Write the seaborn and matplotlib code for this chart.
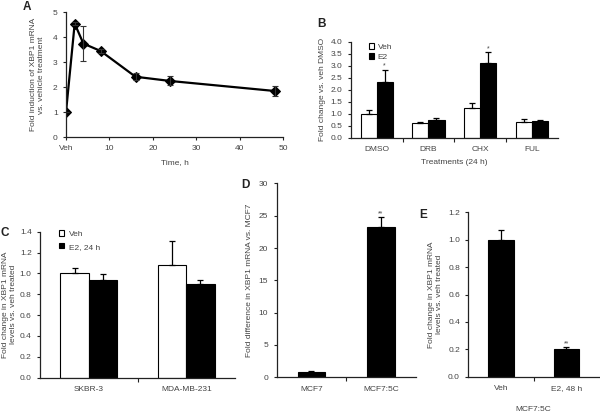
import numpy as np
import pandas as pd
import matplotlib
matplotlib.use("Agg")
import matplotlib.pyplot as plt
import seaborn as sns

# --- Data ---
# A: time course
tempo_h = [0, 2, 4, 8, 16, 24, 48]
fold_a = [1.0, 4.55, 3.75, 3.45, 2.42, 2.25, 1.85]
err_a = [0.0, 0.05, 0.70, 0.07, 0.15, 0.18, 0.20]

# B: treatments
trat_b = ["DMSO", "DRB", "CHX", "FUL"]
veh_b = [1.0, 0.62, 1.22, 0.67]
veh_b_err = [0.15, 0.05, 0.22, 0.12]
e2_b = [2.33, 0.75, 3.12, 0.70]
e2_b_err = [0.50, 0.05, 0.45, 0.03]
star_b = ["*", "", "*", ""]

# C: cell lines
linhas_c = ["SKBR-3", "MDA-MB-231"]
veh_c = [1.0, 1.08]
veh_c_err = [0.05, 0.23]
e2_c = [0.94, 0.90]
e2_c_err = [0.05, 0.04]

# D
linhas_d = ["MCF7", "MCF7:5C"]
fold_d = [0.8, 23.2]
err_d = [0.12, 1.6]
star_d = ["", "**"]

# E
trat_e = ["Veh", "E2, 48 h"]
fold_e = [1.0, 0.205]
err_e = [0.07, 0.012]
star_e = ["", "**"]

TXT = "#444444"
FS = 6

sns.set_theme(style="ticks")
plt.rcParams["font.family"] = ["Liberation Sans", "DejaVu Sans"]
plt.rcParams.update({
    "axes.edgecolor": "#222222",
    "axes.linewidth": 0.9,
    "xtick.color": "#222222",
    "ytick.color": "#222222",
    "xtick.labelcolor": TXT,
    "ytick.labelcolor": TXT,
    "xtick.labelsize": FS,
    "ytick.labelsize": FS,
    "xtick.major.size": 2.5,
    "ytick.major.size": 2.5,
    "xtick.major.width": 0.8,
    "ytick.major.width": 0.8,
    "xtick.minor.width": 0.8,
    "axes.labelcolor": TXT,
    "axes.labelsize": FS,
})

fig = plt.figure(figsize=(6.0, 4.13), dpi=100)

ax_a = fig.add_axes([0.110, 0.668, 0.362, 0.302])
ax_b = fig.add_axes([0.5845, 0.6666, 0.3455, 0.2325])
ax_c = fig.add_axes([0.0667, 0.0855, 0.325, 0.3535])
ax_d = fig.add_axes([0.461, 0.0864, 0.232, 0.4695])
ax_e = fig.add_axes([0.7805, 0.0879, 0.218, 0.398])

for ax in [ax_a, ax_b, ax_c, ax_d, ax_e]:
    sns.despine(ax=ax)


def erros_barras(ax, container, errs, marcas=None):
    # barras de erro só para cima, a partir do topo de cada barra
    for i, (bar, e) in enumerate(zip(container, errs)):
        xc = bar.get_x() + bar.get_width() / 2
        h = bar.get_height()
        ax.errorbar([xc], [h], yerr=[[0], [e]], fmt="none", ecolor="black",
                    elinewidth=0.9, capsize=2.0, capthick=0.9)
        if marcas and marcas[i]:
            ax.text(xc, h + e, marcas[i], ha="center", va="bottom",
                    fontsize=5, color=TXT)


def ticks_categoria(ax, n):
    ax.tick_params(axis="x", which="major", length=0, pad=6)
    ax.set_xticks(np.arange(n - 1) + 0.5, minor=True)
    ax.tick_params(axis="x", which="minor", length=3, direction="out")
    ax.set_xlim(-0.5, n - 0.5)


# --- A ---
df_a = pd.DataFrame({"t": tempo_h, "fold": fold_a})
sns.lineplot(data=df_a, x="t", y="fold", ax=ax_a, color="black", lw=1.6,
             marker="D", markersize=5, markeredgecolor="black")
ax_a.errorbar(tempo_h, fold_a, yerr=err_a, fmt="none", ecolor="#333333",
              elinewidth=0.8, capsize=2.0, capthick=0.8)
ax_a.set_xlim(0, 50)
ax_a.set_ylim(0, 5)
ax_a.set_xticks([0, 10, 20, 30, 40, 50])
ax_a.set_xticklabels(["Veh", "10", "20", "30", "40", "50"])
ax_a.set_yticks([0, 1, 2, 3, 4, 5])
ax_a.set_xlabel("Time, h", labelpad=5)
ax_a.set_ylabel("Fold induction of XBP1 mRNA\nvs. vehicle treatment", labelpad=6)

# --- B ---
df_b = pd.DataFrame({
    "trat": trat_b * 2,
    "val": veh_b + e2_b,
    "grupo": ["Veh"] * 4 + ["E2"] * 4,
})
sns.barplot(data=df_b, x="trat", y="val", hue="grupo", ax=ax_b,
            palette={"Veh": "white", "E2": "black"}, edgecolor="black",
            linewidth=0.8, width=0.62, errorbar=None, saturation=1)
erros_barras(ax_b, ax_b.containers[0], veh_b_err)
erros_barras(ax_b, ax_b.containers[1], e2_b_err, star_b)
ticks_categoria(ax_b, 4)
ax_b.set_ylim(0, 4)
ax_b.set_yticks(np.arange(0, 4.01, 0.5))
ax_b.set_yticklabels([f"{v:.1f}" for v in np.arange(0, 4.01, 0.5)])
ax_b.set_xlabel("Treatments (24 h)", labelpad=4)
ax_b.set_ylabel("Fold change vs. veh DMSO", labelpad=3)
ax_b.legend(loc="upper left", bbox_to_anchor=(0.05, 1.06), frameon=False,
            fontsize=FS, handlelength=0.6, handleheight=0.6, labelspacing=0.3,
            handletextpad=0.5, labelcolor=TXT)

# --- C ---
df_c = pd.DataFrame({
    "linha": linhas_c * 2,
    "val": veh_c + e2_c,
    "grupo": ["Veh"] * 2 + ["E2, 24 h"] * 2,
})
sns.barplot(data=df_c, x="linha", y="val", hue="grupo", ax=ax_c,
            palette={"Veh": "white", "E2, 24 h": "black"}, edgecolor="black",
            linewidth=0.8, width=0.58, errorbar=None, saturation=1)
erros_barras(ax_c, ax_c.containers[0], veh_c_err)
erros_barras(ax_c, ax_c.containers[1], e2_c_err)
ticks_categoria(ax_c, 2)
ax_c.set_ylim(0, 1.4)
ax_c.set_yticks(np.arange(0, 1.41, 0.2))
ax_c.set_yticklabels([f"{v:.1f}" for v in np.arange(0, 1.41, 0.2)])
ax_c.set_xlabel("")
ax_c.set_ylabel("Fold change in XBP1 mRNA\nlevels vs. veh treated", labelpad=2)
ax_c.legend(loc="upper left", bbox_to_anchor=(0.06, 1.06), frameon=False,
            fontsize=FS, handlelength=0.6, handleheight=0.6, labelspacing=0.6,
            handletextpad=0.6, labelcolor=TXT)

# --- D ---
df_d = pd.DataFrame({"linha": linhas_d, "val": fold_d})
sns.barplot(data=df_d, x="linha", y="val", ax=ax_d, color="black",
            edgecolor="black", linewidth=0.8, width=0.39, errorbar=None,
            saturation=1)
erros_barras(ax_d, ax_d.containers[0], err_d, star_d)
ticks_categoria(ax_d, 2)
ax_d.set_ylim(0, 30)
ax_d.set_yticks([0, 5, 10, 15, 20, 25, 30])
ax_d.set_xlabel("")
ax_d.set_ylabel("Fold difference in XBP1 mRNA vs. MCF7", labelpad=4)

# --- E ---
df_e = pd.DataFrame({"trat": trat_e, "val": fold_e})
sns.barplot(data=df_e, x="trat", y="val", ax=ax_e, color="black",
            edgecolor="black", linewidth=0.8, width=0.39, errorbar=None,
            saturation=1)
erros_barras(ax_e, ax_e.containers[0], err_e, star_e)
ticks_categoria(ax_e, 2)
ax_e.set_ylim(0, 1.2)
ax_e.set_yticks(np.arange(0, 1.21, 0.2))
ax_e.set_yticklabels([f"{v:.1f}" for v in np.arange(0, 1.21, 0.2)])
ax_e.set_xlabel("MCF7:5C", labelpad=10)
ax_e.set_ylabel("Fold change in XBP1 mRNA\nlevels vs. veh treated", labelpad=4)

# --- letras dos painéis ---
for letra, x, y in [("A", 27, 7), ("B", 321, 24), ("C", 5, 233),
                    ("D", 245, 185), ("E", 423, 215)]:
    fig.text(x / 600, 1 - y / 413, letra, fontsize=8.5, fontweight="bold",
             color="#222222", ha="center", va="center")

fig.savefig("out.png", dpi=100)
